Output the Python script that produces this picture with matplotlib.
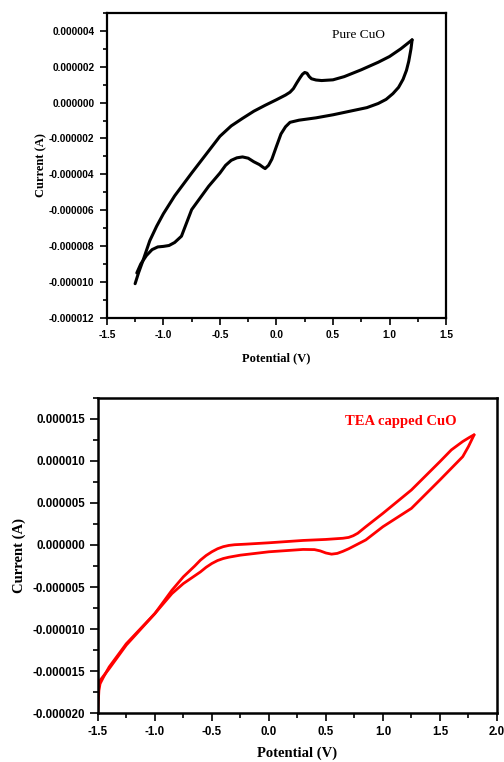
import matplotlib
matplotlib.use("Agg")
import matplotlib.pyplot as plt
from matplotlib.ticker import MultipleLocator, FormatStrFormatter

# ---- Pure CuO (top panel) : potential (V), current (uA) ----
pure_fwd_v = [-1.25, -1.22, -1.18, -1.12, -1.06, -1.0, -0.9, -0.75, -0.6, -0.5, -0.4, -0.3, -0.2, -0.1, 0.0,
              0.08, 0.12, 0.15, 0.18, 0.21, 0.23, 0.25, 0.27, 0.29, 0.31, 0.35, 0.4, 0.5, 0.6, 0.75, 0.9, 1.0,
              1.1, 1.2]
pure_fwd_i = [-10.1, -9.5, -8.8, -7.7, -6.9, -6.2, -5.2, -3.93, -2.7, -1.88, -1.3, -0.88, -0.48, -0.15, 0.16,
              0.42, 0.58, 0.78, 1.1, 1.4, 1.58, 1.68, 1.64, 1.45, 1.33, 1.26, 1.23, 1.27, 1.45, 1.83, 2.25, 2.57,
              3.0, 3.5]
pure_rev_v = [1.2, 1.19, 1.17, 1.15, 1.12, 1.08, 1.03, 0.97, 0.9, 0.8, 0.65, 0.5, 0.35, 0.2, 0.12, 0.08, 0.04,
              0.0, -0.04, -0.07, -0.1, -0.12, -0.15, -0.2, -0.25, -0.3, -0.35, -0.4, -0.45, -0.5, -0.6, -0.75,
              -0.84, -0.9, -0.95, -1.0, -1.05, -1.1, -1.15, -1.2, -1.235]
pure_rev_i = [3.5, 3.0, 2.3, 1.8, 1.3, 0.85, 0.5, 0.18, -0.05, -0.28, -0.48, -0.68, -0.85, -0.98, -1.1, -1.35,
              -1.75, -2.44, -3.15, -3.5, -3.68, -3.6, -3.46, -3.3, -3.1, -3.03, -3.08, -3.22, -3.5, -3.93, -4.67,
              -5.97, -7.45, -7.8, -7.97, -8.02, -8.05, -8.2, -8.53, -9.0, -9.5]

# ---- TEA capped CuO (bottom panel) ----
tea_fwd_v = [-1.5, -1.495, -1.49, -1.48, -1.45, -1.4, -1.25, -1.0, -0.85, -0.75, -0.65, -0.6, -0.55, -0.5,
             -0.45, -0.4, -0.35, -0.3, -0.2, 0.0, 0.3, 0.5, 0.65, 0.7, 0.74, 0.78, 0.85, 1.0, 1.25, 1.5, 1.6,
             1.7, 1.76, 1.8]
tea_fwd_i = [-20.0, -18.5, -17.3, -16.5, -15.7, -14.5, -11.74, -8.16, -5.38, -3.79, -2.5, -1.8, -1.25, -0.81,
             -0.45, -0.2, -0.05, 0.03, 0.1, 0.26, 0.54, 0.66, 0.8, 0.9, 1.1, 1.4, 2.17, 3.76, 6.54, 9.91, 11.3,
             12.3, 12.8, 13.1]
tea_rev_v = [1.8, 1.75, 1.7, 1.5, 1.25, 1.0, 0.85, 0.75, 0.7, 0.65, 0.6, 0.55, 0.5, 0.45, 0.4, 0.3, 0.0,
             -0.25, -0.35, -0.4, -0.45, -0.5, -0.55, -0.6, -0.75, -0.85, -1.0, -1.25, -1.4, -1.48, -1.5]
tea_rev_i = [13.1, 11.7, 10.5, 7.73, 4.35, 2.17, 0.6, -0.1, -0.45, -0.75, -1.0, -1.09, -0.95, -0.7, -0.55,
             -0.53, -0.81, -1.21, -1.45, -1.61, -1.85, -2.2, -2.65, -3.2, -4.59, -5.78, -8.16, -11.9, -14.7,
             -16.1, -16.6]

pure_xticks = [-1.5, -1.0, -0.5, 0.0, 0.5, 1.0, 1.5]
tea_xticks = [-1.5, -1.0, -0.5, 0.0, 0.5, 1.0, 1.5, 2.0]

label_font = ["Liberation Serif", "DejaVu Serif"]

fig = plt.figure(figsize=(5.04, 7.62), dpi=100)


def style(ax, fs, lw, maj_len, pad):
    for s in ax.spines.values():
        s.set_linewidth(lw)
    ax.tick_params(which="both", direction="out", top=False, right=False, width=1.2)
    ax.tick_params(which="major", length=maj_len, pad=pad)
    ax.tick_params(which="minor", length=maj_len * 0.6)
    for lab in ax.get_xticklabels() + ax.get_yticklabels():
        lab.set_fontfamily("Liberation Sans")
        lab.set_fontweight("bold")
        lab.set_fontsize(fs)


# Top panel
ax1 = fig.add_axes([0.212, 0.583, 0.673, 0.400])
ax1.plot(pure_fwd_v, [v * 1e-6 for v in pure_fwd_i], color="black", lw=2.2,
         solid_joinstyle="round", solid_capstyle="round")
ax1.plot(pure_rev_v, [v * 1e-6 for v in pure_rev_i], color="black", lw=2.2,
         solid_joinstyle="round", solid_capstyle="round")
ax1.set_xlim(-1.5, 1.5)
ax1.set_ylim(-12e-6, 5e-6)
ax1.set_xticks(pure_xticks)
ax1.xaxis.set_minor_locator(MultipleLocator(0.25))
ax1.yaxis.set_major_locator(MultipleLocator(2e-6))
ax1.yaxis.set_minor_locator(MultipleLocator(1e-6))
ax1.yaxis.set_major_formatter(FormatStrFormatter("%.6f"))
ax1.xaxis.set_major_formatter(FormatStrFormatter("%.1f"))
style(ax1, 7.3, 1.6, 5, 4)
ax1.set_xlabel("Potential (V)", family=label_font, weight="bold", fontsize=9, labelpad=9)
ax1.set_ylabel("Current (A)", family=label_font, weight="bold", fontsize=9, labelpad=1)
ax1.text(0.49, 3.78e-6, "Pure CuO", family=label_font, fontsize=9.5, va="center", ha="left")

# Bottom panel
ax2 = fig.add_axes([0.194, 0.064, 0.792, 0.414])
ax2.plot(tea_fwd_v, [v * 1e-6 for v in tea_fwd_i], color="#ff0000", lw=2.0,
         solid_joinstyle="round", solid_capstyle="round")
ax2.plot(tea_rev_v, [v * 1e-6 for v in tea_rev_i], color="#ff0000", lw=2.0,
         solid_joinstyle="round", solid_capstyle="round")
ax2.set_xlim(-1.5, 2.0)
ax2.set_ylim(-20e-6, 17.5e-6)
ax2.set_xticks(tea_xticks)
ax2.xaxis.set_minor_locator(MultipleLocator(0.25))
ax2.yaxis.set_major_locator(MultipleLocator(5e-6))
ax2.yaxis.set_minor_locator(MultipleLocator(2.5e-6))
ax2.yaxis.set_major_formatter(FormatStrFormatter("%.6f"))
ax2.xaxis.set_major_formatter(FormatStrFormatter("%.1f"))
style(ax2, 8.3, 1.8, 6, 3)
ax2.set_xlabel("Potential (V)", family=label_font, weight="bold", fontsize=10.5, labelpad=6)
ax2.set_ylabel("Current (A)", family=label_font, weight="bold", fontsize=10.5, labelpad=5)
ax2.text(0.667, 14.7e-6, "TEA capped CuO", family=label_font, weight="bold", fontsize=10.5,
         color="#ff0000", va="center", ha="left")

fig.savefig("out.png", dpi=100)
